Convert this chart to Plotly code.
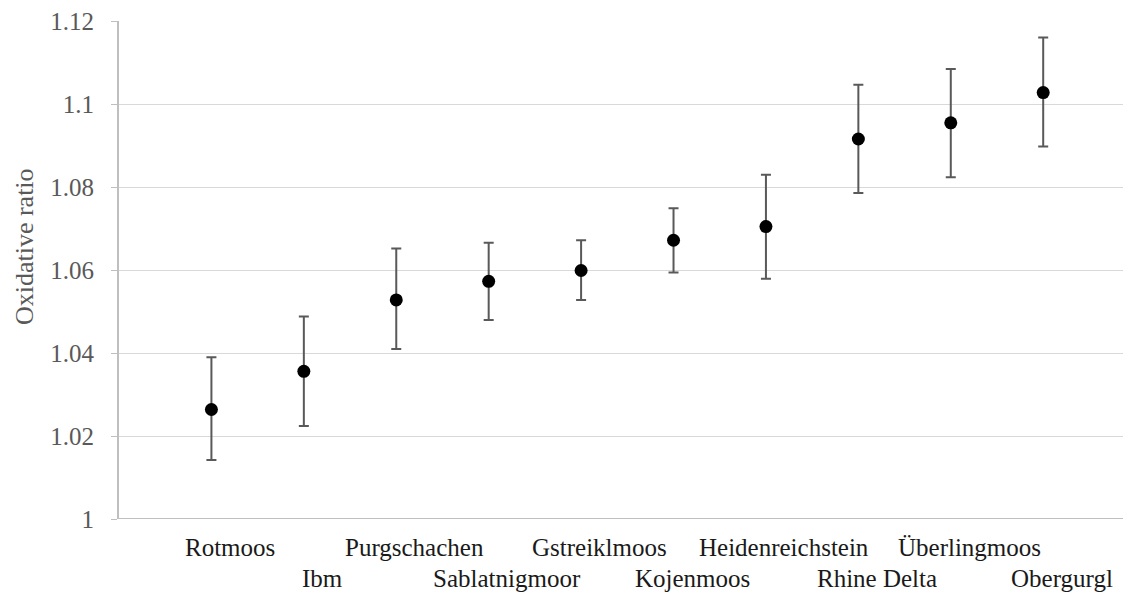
import plotly.graph_objects as go

sites = ["Rotmoos", "Ibm", "Purgschachen", "Sablatnigmoor", "Gstreiklmoos",
         "Kojenmoos", "Heidenreichstein", "Rhine Delta", "Überlingmoos", "Obergurgl"]
ratio = [1.0264, 1.0356, 1.0528, 1.0573, 1.0599, 1.0672, 1.0705, 1.0916, 1.0955, 1.1028]
err_plus = [0.0126, 0.0132, 0.0124, 0.0093, 0.0073, 0.0077, 0.0125, 0.0131, 0.0130, 0.0133]
err_minus = [0.0122, 0.0132, 0.0118, 0.0093, 0.0071, 0.0078, 0.0126, 0.0130, 0.0131, 0.0130]
positions = [1, 2, 3, 4, 5, 6, 7, 8, 9, 10]
y_ticks = [1.0, 1.02, 1.04, 1.06, 1.08, 1.10, 1.12]
y_tick_text = ["1", "1.02", "1.04", "1.06", "1.08", "1.1", "1.12"]
y_title = "Oxidative ratio"

FONT = "Liberation Serif, Times New Roman, serif"

fig = go.Figure()
fig.add_trace(go.Scatter(
    x=positions, y=ratio, mode="markers",
    marker=dict(color="black", size=13),
    error_y=dict(type="data", array=err_plus, arrayminus=err_minus,
                 color="#595959", thickness=2, width=5, visible=True),
    showlegend=False, hoverinfo="skip",
))

label_offset = 0.2
for i, (p, s) in enumerate(zip(positions, sites)):
    fig.add_annotation(
        x=p + label_offset, xref="x", y=0, yref="paper",
        text=s, showarrow=False, yanchor="middle", xanchor="center",
        yshift=-28 if i % 2 == 0 else -59,
        font=dict(family=FONT, size=25, color="#1a1a1a"),
    )

# y-axis title
fig.add_annotation(
    x=0, xref="paper", y=0.546, yref="paper", xshift=-95,
    text=y_title, textangle=-90, showarrow=False,
    xanchor="center", yanchor="middle",
    font=dict(family=FONT, size=26, color="#595959"),
)

# the page body adds an 8px offset; the figure is sized to fill the rest of the window
fig.update_layout(
    width=1123, height=589,
    margin=dict(l=111, r=0, t=13, b=78, autoexpand=False),
    paper_bgcolor="white", plot_bgcolor="white",
    font=dict(family=FONT, size=24, color="#595959"),
    xaxis=dict(range=[0, 10.95], showgrid=False, zeroline=False, automargin=False,
               showticklabels=False, ticks="", showline=False),
    yaxis=dict(range=[1.0, 1.12005], tickvals=y_ticks, ticktext=y_tick_text,
               automargin=False, ticklabeloverflow="allow",
               showgrid=True, gridcolor="#d9d9d9", gridwidth=1,
               zeroline=False, showline=True, linecolor="#bfbfbf", linewidth=2,
               ticks="outside", ticklen=6, tickcolor="#bfbfbf", tickwidth=1,
               ticklabelstandoff=12,
               tickfont=dict(family=FONT, size=25, color="#595959")),
)
fig.add_shape(type="line", xref="paper", yref="y", x0=0, x1=1, y0=1.0, y1=1.0,
              line=dict(color="#bfbfbf", width=2))

fig.write_html("out.html")
